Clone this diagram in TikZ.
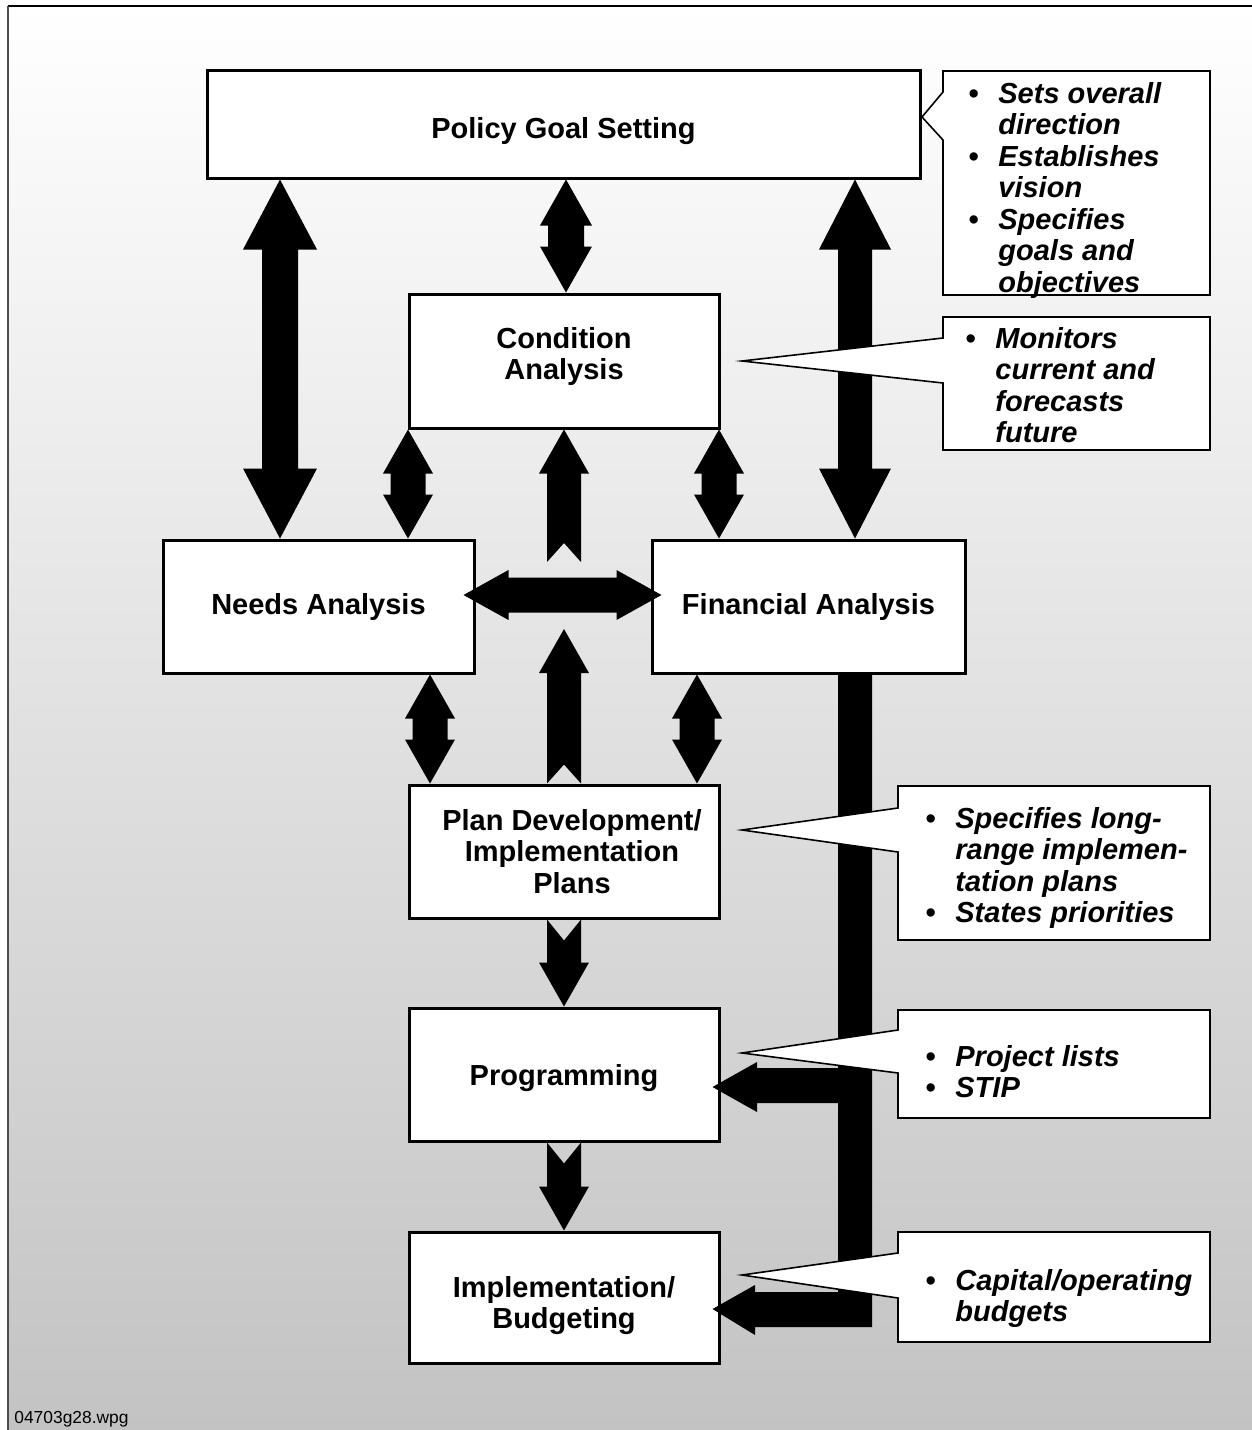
\documentclass[tikz,border=0pt]{standalone}
\usepackage{fontspec}
\setmainfont{Liberation Sans}
\usetikzlibrary{calc}
\definecolor{bgbot}{RGB}{195,195,195}
\tikzset{
  box/.style={draw=black, line width=1.5pt, fill=white, align=center, inner sep=0pt,
    font=\fontsize{14.5}{15.75}\selectfont\bfseries},
  callout/.style={draw=black, line width=0.8pt, fill=white},
  ctext/.style={font=\fontsize{14.5}{15.75}\selectfont\bfseries\itshape, align=left,
    anchor=north west, inner sep=0pt},
}
\newcommand\bl{\makebox[15pt][l]{\textbullet}}
\newcommand\ind{\hspace*{15pt}}
% vertical double arrow: #1 top tip, #2 bottom tip, #3 half bar, #4 half head, #5 head length
\newcommand\vdbl[5]{\fill ($#1$) -- ($#1+(#4,#5)$) -- ($#1+(#3,#5)$) -- ($#2+(#3,-#5)$) -- ($#2+(#4,-#5)$) -- ($#2$) -- ($#2+(-#4,-#5)$) -- ($#2+(-#3,-#5)$) -- ($#1+(-#3,#5)$) -- ($#1+(-#4,#5)$) -- cycle;}
% horizontal double arrow: #1 left tip, #2 right tip
\newcommand\hdbl[5]{\fill ($#1$) -- ($#1+(#5,-#4)$) -- ($#1+(#5,-#3)$) -- ($#2+(-#5,-#3)$) -- ($#2+(-#5,-#4)$) -- ($#2$) -- ($#2+(-#5,#4)$) -- ($#2+(-#5,#3)$) -- ($#1+(#5,#3)$) -- ($#1+(#5,#4)$) -- cycle;}
% up arrow, notched tail: #1 tip, #2 tail centre, #6 notch depth
\newcommand\uparr[6]{\fill ($#1$) -- ($#1+(#4,#5)$) -- ($#1+(#3,#5)$) -- ($#2+(#3,0)$) -- ($#2+(0,-#6)$) -- ($#2+(-#3,0)$) -- ($#1+(-#3,#5)$) -- ($#1+(-#4,#5)$) -- cycle;}
% down arrow, notched tail: #1 tail centre, #2 tip
\newcommand\dnarr[6]{\fill ($#2$) -- ($#2+(#4,-#5)$) -- ($#2+(#3,-#5)$) -- ($#1+(#3,0)$) -- ($#1+(0,#6)$) -- ($#1+(-#3,0)$) -- ($#2+(-#3,-#5)$) -- ($#2+(-#4,-#5)$) -- cycle;}
\begin{document}
\begin{tikzpicture}[x=0.5pt, y=-0.5pt]
\useasboundingbox (0,0) rectangle (1252,1430);
% background
\fill[white] (0,0) rectangle (1252,1430);
\shade[top color=white, bottom color=bgbot] (8,6) rectangle (1252,1430);
\draw[line width=1pt] (1252,6) -- (8,6);
\draw[line width=1pt, black!70] (8,6) -- (8,1430);
\node[anchor=base west, inner sep=0pt, font=\fontsize{8.7}{10}\selectfont] (file) at (14,1423) {04703g28.wpg};

% boxes
\node[box, minimum width=356.5pt, minimum height=54pt, text height=17pt, text depth=3pt] (pol) at (563.5,124) {Policy Goal Setting};
\node[box, minimum width=155pt, minimum height=67pt, text depth=7.5pt] (con) at (564,361) {Condition\\Analysis};
\node[box, minimum width=155.5pt, minimum height=66.5pt] (nee) at (318.5,606.5) {Needs Analysis};
\node[box, minimum width=156.5pt, minimum height=66.5pt] (fin) at (808.5,606.5) {Financial Analysis};
\node[box, minimum width=155pt, minimum height=66.5pt] (pla) at (564,851.5) {\hspace*{8pt}Plan Development/\\\hspace*{8pt}Implementation\\\hspace*{8pt}Plans};
\node[box, minimum width=155pt, minimum height=66.5pt, text height=13.6pt, text depth=3pt] (pro) at (564,1074.5) {Programming};
\node[box, minimum width=155pt, minimum height=65.5pt, text height=34.4pt] (imp) at (564,1297.5) {Implementation/\\Budgeting};

% arrow end points
\coordinate (a1) at (280,0 |- pol.south);  \coordinate (b1) at (280,0 |- nee.north);
\coordinate (a2) at (566,0 |- pol.south);  \coordinate (b2) at (566,0 |- con.north);
\coordinate (a3) at (855,0 |- pol.south);  \coordinate (b3) at (855,0 |- fin.north);
\coordinate (a4) at (408,0 |- con.south);  \coordinate (b4) at (408,0 |- nee.north);
\coordinate (a5) at (719,0 |- con.south);  \coordinate (b5) at (719,0 |- fin.north);
\coordinate (a6) at (430,0 |- nee.south);  \coordinate (b6) at (430,0 |- pla.north);
\coordinate (a7) at (697,0 |- fin.south);  \coordinate (b7) at (697,0 |- pla.north);
\coordinate (u1) at (564,0 |- con.south);  \coordinate (u1t) at (564,562);
\coordinate (u2) at (564,629);             \coordinate (u2t) at (564,0 |- pla.north);
\coordinate (hl) at ($(nee.east |- 0,595)+(-12,0)$);
\coordinate (hr) at ($(fin.west |- 0,595)+(11,0)$);
\coordinate (d1) at (564,0 |- pla.south);  \coordinate (d1t) at (564,0 |- pro.north);
\coordinate (d2) at (564,0 |- pro.south);  \coordinate (d2t) at (564,0 |- imp.north);
\coordinate (tp) at ($(pro.east |- 0,1087)+(-8,0)$);
\coordinate (ti) at ($(imp.east |- 0,1309)+(-8,0)$);
\coordinate (fb) at (838,0 |- fin.south);

% arrows
\vdbl{(a1)}{(b1)}{18}{37}{70}
\vdbl{(a2)}{(b2)}{18}{26}{46}
\vdbl{(a3)}{(b3)}{17}{36}{70}
\vdbl{(a4)}{(b4)}{17.5}{25}{44}
\vdbl{(a5)}{(b5)}{17.5}{25}{44}
\vdbl{(a6)}{(b6)}{17.5}{25}{44}
\vdbl{(a7)}{(b7)}{17.5}{25}{44}
\uparr{(u1)}{(u1t)}{17}{25}{44}{19}
\uparr{(u2)}{(u2t)}{17}{25}{44}{19}
\hdbl{(hl)}{(hr)}{17.5}{25}{45}
\dnarr{(d1)}{(d1t)}{17}{25}{44}{21}
\dnarr{(d2)}{(d2t)}{17}{25}{44}{21}
% feedback bar from Financial Analysis
\fill (fb) -- ($(fb)+(34,0)$) -- (872,1327) -- (755,1327) -- (755,1335) -- (ti) -- (755,1285) -- (755,1292) -- (838,1292) -- cycle;
\fill (838,1068) -- (757,1068) -- (757,1062) -- (tp) -- (757,1112) -- (757,1103) -- (838,1103) -- cycle;

% callouts
\draw[callout] (943,71) -- (1210,71) -- (1210,295) -- (943,295) -- (943,140) -- (922,117) -- (943,92) -- cycle;
\node[ctext] (c1) at (968,82) {\bl Sets overall\\\ind direction\\\bl Establishes\\\ind vision\\\bl Specifies\\\ind goals and\\\ind objectives};
\draw[callout] (943,317) -- (1210,317) -- (1210,450) -- (943,450) -- (943,383) -- (742,361) -- (943,338) -- cycle;
\node[ctext] (c2) at (965,327) {\bl Monitors\\\ind current and\\\ind forecasts\\\ind future};
\draw[callout] (898,786) -- (1210,786) -- (1210,940) -- (898,940) -- (898,852) -- (742,830) -- (898,808) -- cycle;
\node[ctext] (c3) at (925,807) {\bl Specifies long-\\\ind range implemen-\\\ind tation plans\\\bl States priorities};
\draw[callout] (898,1010) -- (1210,1010) -- (1210,1118) -- (898,1118) -- (898,1073) -- (742,1053) -- (898,1030) -- cycle;
\node[ctext] (c4) at (925,1045) {\bl Project lists\\\bl STIP};
\draw[callout] (898,1232) -- (1210,1232) -- (1210,1342) -- (898,1342) -- (898,1298) -- (742,1275) -- (898,1253) -- cycle;
\node[ctext] (c5) at (925,1269) {\bl Capital/operating\\\ind budgets};
\end{tikzpicture}
\end{document}
